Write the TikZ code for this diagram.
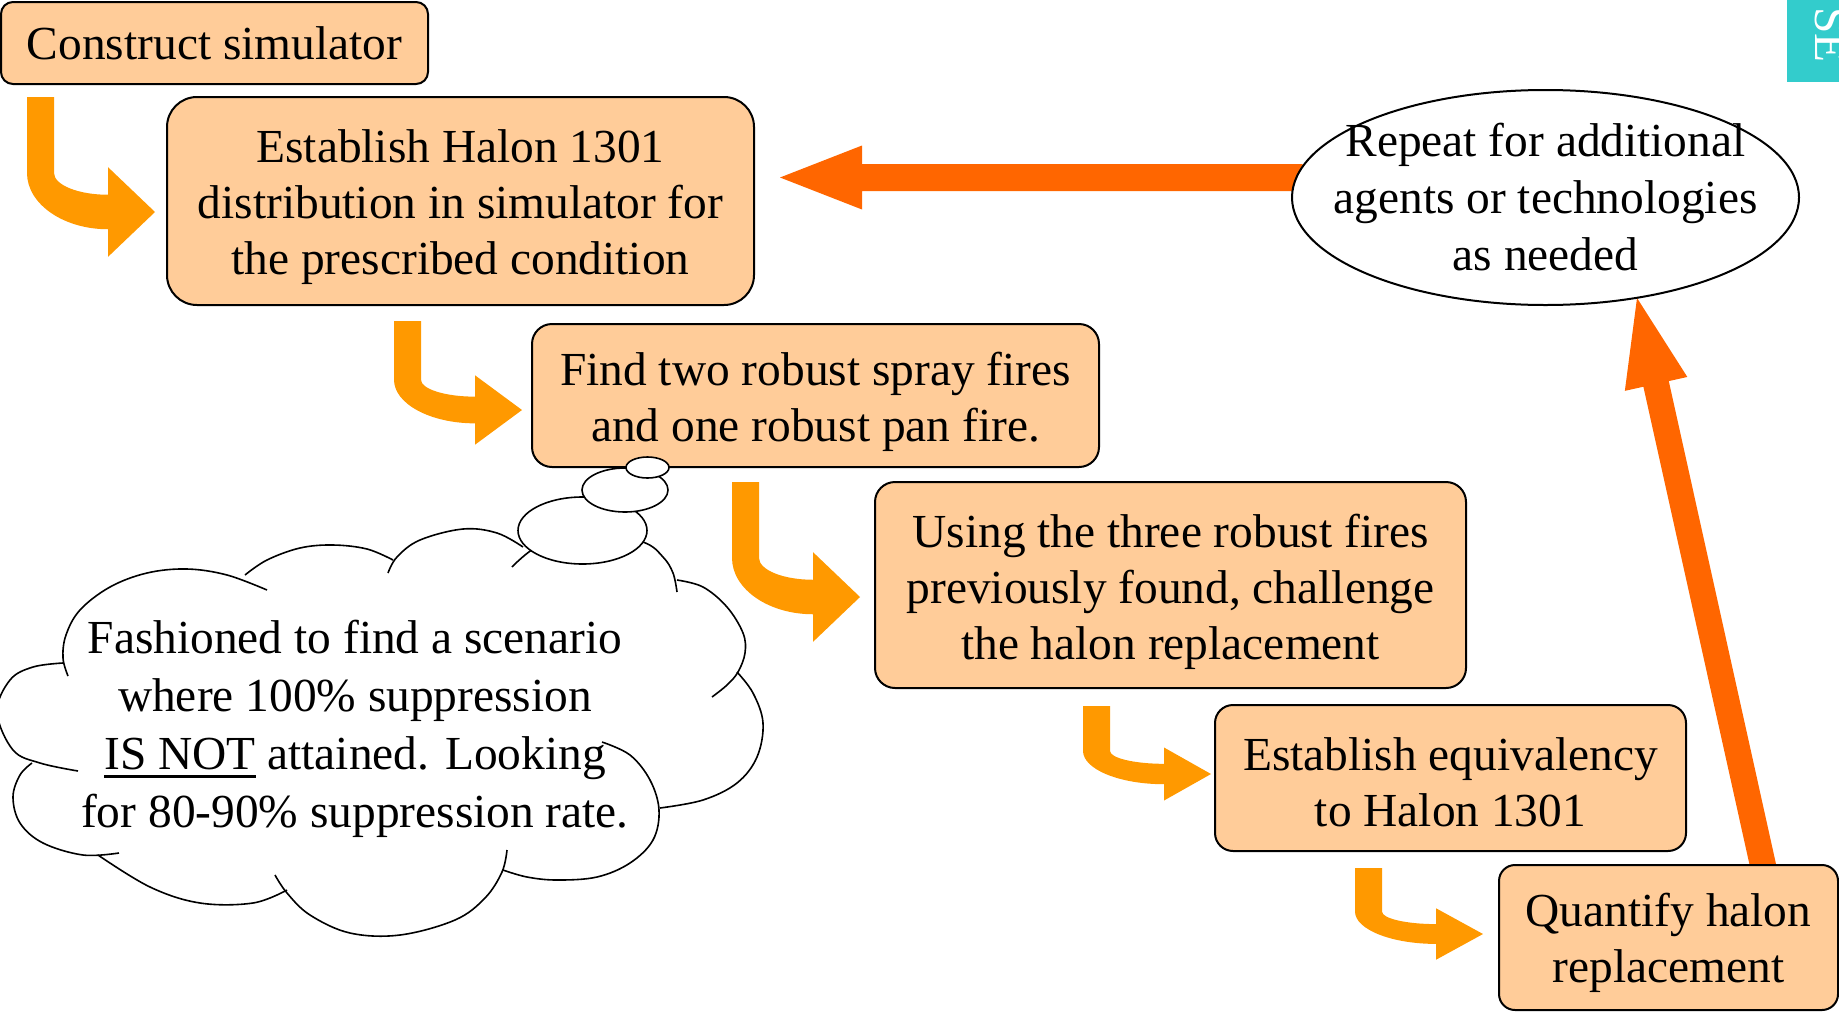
\documentclass[tikz,border=0pt]{standalone}
\usepackage{fontspec}
\setmainfont{Liberation Serif}
\usetikzlibrary{calc,shapes.geometric}
\definecolor{boxfill}{HTML}{FFCC99}
\definecolor{bentc}{HTML}{FF9900}
\definecolor{bigc}{HTML}{FF6600}
\definecolor{tealc}{HTML}{33CCCC}
\newcommand\bfnt{\fontsize{23.7pt}{28pt}\selectfont}
\newcommand\cfnt{\fontsize{23.7pt}{29pt}\selectfont}
\newcommand\efnt{\fontsize{23.7pt}{28.5pt}\selectfont}
\newcommand\topstrut[1]{\rule{0pt}{#1}}
\newlength\myulw
\newcommand\myul[1]{\settowidth\myulw{#1}\rlap{\rule[-4pt]{\myulw}{1.4pt}}#1}
% bent block arrow: x0, y0 (top-left of shaft), H (top to tip height)
\newcommand\bentarrow[3]{%
 \pgfmathsetmacro\bxa{#1}\pgfmathsetmacro\bya{#2}%
 \pgfmathsetmacro\byt{#2+#3}%
 \pgfmathsetmacro\byc{\byt-0.34*#3}%
 \pgfmathsetmacro\byi{\byt-0.15*#3}%
 \pgfmathsetmacro\byo{\byt+0.15*#3}%
 \pgfmathsetmacro\byht{\byt-0.39*#3}%
 \pgfmathsetmacro\byhb{\byt+0.39*#3}%
 \pgfmathsetmacro\bxw{#1+27}%
 \pgfmathsetmacro\bxh{#1+81}%
 \pgfmathsetmacro\bxt{#1+128}%
 \pgfmathsetmacro\bci{\byc+0.105*#3}%
 \pgfmathsetmacro\bco{\byc+0.27*#3}%
 \pgfmathsetmacro\bxci{\bxh-29.8}%
 \pgfmathsetmacro\bxco{\bxh-44.7}%
 \fill[bentfill] (\bxa,\bya) -- (\bxw,\bya) -- (\bxw,\byc)
   .. controls (\bxw,\bci) and (\bxci,\byi) .. (\bxh,\byi)
   -- (\bxh,\byht) -- (\bxt,\byt) -- (\bxh,\byhb) -- (\bxh,\byo)
   .. controls (\bxco,\byo) and (\bxa,\bco) .. (\bxa,\byc) -- cycle;}
% straight block arrow: tail, tip, head length, head half width, shaft half width
\newcommand\blockarrow[5]{%
 \coordinate (ba-hb) at ($(#2)!#3!(#1)$);
 \fill[bigfill] ($(#1)!#5!90:(#2)$) -- ($(ba-hb)!#5!90:(#2)$) -- ($(ba-hb)!#4!90:(#2)$)
   -- (#2) -- ($(ba-hb)!#4!-90:(#2)$) -- ($(ba-hb)!#5!-90:(#2)$) -- ($(#1)!#5!-90:(#2)$) -- cycle;}
\begin{document}
\begin{tikzpicture}[x=0.5pt,y=-0.5pt,
  box/.style={draw=black, line width=1pt, fill=boxfill, rounded corners=#1, inner sep=0pt, align=center, font=\bfnt},
  bentfill/.style={fill=bentc},
  bigfill/.style={fill=bigc},
  cloudline/.style={draw=black, line width=0.8pt},
  bubble/.style={draw=black, line width=0.8pt, fill=white, ellipse, inner sep=0pt}]
\useasboundingbox (0,0) rectangle (1839,1012);

% bent arrows between steps
\bentarrow{27}{97}{115}
\bentarrow{394}{321}{89}
\bentarrow{732}{482}{115}
\bentarrow{1083}{706}{68}
\bentarrow{1355}{868}{66}

% boxes (positions in px, sizes in pt = px/2)
\node[box=6pt, minimum width=213.5pt, minimum height=41pt] (b1) at (214.5,43) {Construct simulator};
\node[box=15pt, minimum width=293.5pt, minimum height=104pt] (b2) at (460.5,201) {\topstrut{23pt}Establish Halon 1301\\distribution in simulator for\\the prescribed condition};
\node[box=10pt, minimum width=283.5pt, minimum height=71.5pt] (b3) at (815.5,395.5) {\topstrut{23pt}Find two robust spray fires\\and one robust pan fire.};
\node[box=10pt, minimum width=295.5pt, minimum height=103pt] (b4) at (1170.5,585) {\topstrut{23.5pt}Using the three robust fires\\previously found, challenge\\the halon replacement};
\node[box=9pt, minimum width=235.5pt, minimum height=73pt] (b5) at (1450.5,778) {\topstrut{20.5pt}Establish equivalency\\to Halon 1301};

% ellipse centre and the two big arrows
\coordinate (ellc) at (1545.5,197.5);
\coordinate (htail) at ($(ellc)+(-243,-20)$);
\coordinate (htip) at (780,177.5);
\blockarrow{htail}{htip}{41pt}{16pt}{6.75pt}
\coordinate (dtail) at (1764,870);
\coordinate (dtip) at (1637,298);
\blockarrow{dtail}{dtip}{44pt}{16pt}{6.5pt}

\node[box=8pt, minimum width=169.5pt, minimum height=72.5pt] (b6) at (1668.5,937.5) {\topstrut{22.5pt}Quantify halon\\replacement};

\node[draw=black, line width=1pt, fill=white, ellipse, inner sep=0pt, minimum width=253.5pt, minimum height=107.5pt] (ell) at (ellc) {};
\node[font=\efnt, align=center, inner sep=0pt] (etext) at (ell.center) {Repeat for additional\\agents or technologies\\as needed};

% thought cloud
\draw[cloudline] plot[smooth, tension=0.6] coordinates {(63,663) (33,667) (10,680) (-3,712) (13,750) (40,763) (78,771)};
\draw[cloudline] plot[smooth, tension=0.6] coordinates {(68,676) (63,658) (66,635) (80,610) (110,587) (147,573) (187,569) (227,575) (267,590)};
\draw[cloudline] plot[smooth, tension=0.6] coordinates {(245,575) (267,560) (300,548) (333,545) (367,549) (393,560)};
\draw[cloudline] plot[smooth, tension=0.6] coordinates {(388,573) (397,557) (420,540) (463,529) (497,533) (523,547)};
\draw[cloudline] plot[smooth, tension=0.6] coordinates {(512,567) (540,545) (590,530) (643,542) (663,557) (673,573) (677,592)};
\draw[cloudline] plot[smooth, tension=0.6] coordinates {(677,580) (703,587) (727,607) (743,633) (745,653) (738,672) (727,685) (712,697)};
\draw[cloudline] plot[smooth, tension=0.6] coordinates {(737,672) (753,693) (763,723) (757,757) (737,783) (703,800) (660,808)};
\draw[cloudline] plot[smooth, tension=0.6] coordinates {(602,742) (630,755) (650,780) (659,810) (653,840) (630,863) (597,877) (557,880) (527,877) (503,870)};
\draw[cloudline] plot[smooth, tension=0.6] coordinates {(507,850) (502,872) (485,898) (455,920) (400,935) (350,933) (310,915) (287,893) (275,875)};
\draw[cloudline] plot[smooth, tension=0.6] coordinates {(98,855) (150,887) (200,903) (253,903) (287,890)};
\draw[cloudline] plot[smooth, tension=0.6] coordinates {(119,853) (83,855) (43,843) (20,823) (13,797) (20,775) (32,763)};

\node[bubble, minimum width=64.5pt, minimum height=33.5pt] (bub1) at (582.5,530.5) {};
\node[bubble, minimum width=43pt, minimum height=22pt] (bub2) at (625,490) {};
\node[bubble, minimum width=21.5pt, minimum height=10.5pt] (bub3) at (647.5,467.5) {};

\node[font=\cfnt, align=center, inner sep=0pt] (ctext) at (355,729) {Fashioned to find a scenario\\where 100\% suppression\\\myul{IS NOT} attained. Looking\\for 80-90\% suppression rate.};

% corner tag
\fill[tealc] (1787,-2) rectangle (1845,82);
\node[rotate=-90, anchor=base, text=white, font=\bfnt, inner sep=0pt] (tag) at (1815,35) {SE};
\end{tikzpicture}
\end{document}
